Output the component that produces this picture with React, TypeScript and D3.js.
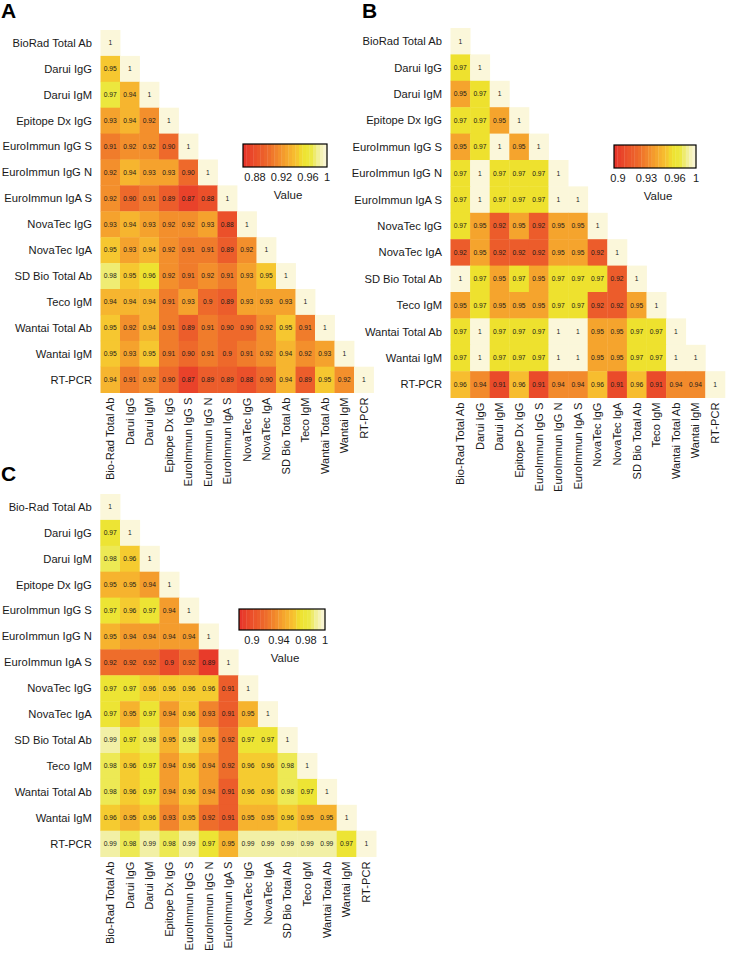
import React from 'react';
import * as d3 from 'd3';

const rowLabelsAB = ['BioRad Total Ab', 'Darui IgG', 'Darui IgM', 'Epitope Dx IgG', 'EuroImmun IgG S', 'EuroImmun IgG N', 'EuroImmun IgA S', 'NovaTec IgG', 'NovaTec IgA', 'SD Bio Total Ab', 'Teco IgM', 'Wantai Total Ab', 'Wantai IgM', 'RT-PCR'];
const rowLabelsC = ['Bio-Rad Total Ab', 'Darui IgG', 'Darui IgM', 'Epitope Dx IgG', 'EuroImmun IgG S', 'EuroImmun IgG N', 'EuroImmun IgA S', 'NovaTec IgG', 'NovaTec IgA', 'SD Bio Total Ab', 'Teco IgM', 'Wantai Total Ab', 'Wantai IgM', 'RT-PCR'];
const colLabels = ['Bio-Rad Total Ab', 'Darui IgG', 'Darui IgM', 'Epitope Dx IgG', 'EuroImmun IgG S', 'EuroImmun IgG N', 'EuroImmun IgA S', 'NovaTec IgG', 'NovaTec IgA', 'SD Bio Total Ab', 'Teco IgM', 'Wantai Total Ab', 'Wantai IgM', 'RT-PCR'];

// lower triangle, row by row, as printed in the cells
const valuesA = [
  ['1'],
  ['0.95', '1'],
  ['0.97', '0.94', '1'],
  ['0.93', '0.94', '0.92', '1'],
  ['0.91', '0.92', '0.92', '0.90', '1'],
  ['0.92', '0.94', '0.93', '0.93', '0.90', '1'],
  ['0.92', '0.90', '0.91', '0.89', '0.87', '0.88', '1'],
  ['0.93', '0.94', '0.93', '0.92', '0.92', '0.93', '0.88', '1'],
  ['0.95', '0.93', '0.94', '0.92', '0.91', '0.91', '0.89', '0.92', '1'],
  ['0.98', '0.95', '0.96', '0.92', '0.91', '0.92', '0.91', '0.93', '0.95', '1'],
  ['0.94', '0.94', '0.94', '0.91', '0.93', '0.9', '0.89', '0.93', '0.93', '0.93', '1'],
  ['0.95', '0.92', '0.94', '0.91', '0.89', '0.91', '0.90', '0.90', '0.92', '0.95', '0.91', '1'],
  ['0.95', '0.93', '0.95', '0.91', '0.90', '0.91', '0.9', '0.91', '0.92', '0.94', '0.92', '0.93', '1'],
  ['0.94', '0.91', '0.92', '0.90', '0.87', '0.89', '0.89', '0.88', '0.90', '0.94', '0.89', '0.95', '0.92', '1'],
];

const valuesB = [
  ['1'],
  ['0.97', '1'],
  ['0.95', '0.97', '1'],
  ['0.97', '0.97', '0.95', '1'],
  ['0.95', '0.97', '1', '0.95', '1'],
  ['0.97', '1', '0.97', '0.97', '0.97', '1'],
  ['0.97', '1', '0.97', '0.97', '0.97', '1', '1'],
  ['0.97', '0.95', '0.92', '0.95', '0.92', '0.95', '0.95', '1'],
  ['0.92', '0.95', '0.92', '0.92', '0.92', '0.95', '0.95', '0.92', '1'],
  ['1', '0.97', '0.95', '0.97', '0.95', '0.97', '0.97', '0.97', '0.92', '1'],
  ['0.95', '0.97', '0.95', '0.95', '0.95', '0.97', '0.97', '0.92', '0.92', '0.95', '1'],
  ['0.97', '1', '0.97', '0.97', '0.97', '1', '1', '0.95', '0.95', '0.97', '0.97', '1'],
  ['0.97', '1', '0.97', '0.97', '0.97', '1', '1', '0.95', '0.95', '0.97', '0.97', '1', '1'],
  ['0.96', '0.94', '0.91', '0.96', '0.91', '0.94', '0.94', '0.96', '0.91', '0.96', '0.91', '0.94', '0.94', '1'],
];

const valuesC = [
  ['1'],
  ['0.97', '1'],
  ['0.98', '0.96', '1'],
  ['0.95', '0.95', '0.94', '1'],
  ['0.97', '0.96', '0.97', '0.94', '1'],
  ['0.95', '0.94', '0.94', '0.94', '0.94', '1'],
  ['0.92', '0.92', '0.92', '0.9', '0.92', '0.89', '1'],
  ['0.97', '0.97', '0.96', '0.96', '0.96', '0.96', '0.91', '1'],
  ['0.97', '0.95', '0.97', '0.94', '0.96', '0.93', '0.91', '0.95', '1'],
  ['0.99', '0.97', '0.98', '0.95', '0.98', '0.95', '0.92', '0.97', '0.97', '1'],
  ['0.98', '0.96', '0.97', '0.94', '0.96', '0.94', '0.92', '0.96', '0.96', '0.98', '1'],
  ['0.98', '0.96', '0.97', '0.94', '0.96', '0.94', '0.91', '0.96', '0.96', '0.98', '0.97', '1'],
  ['0.96', '0.95', '0.96', '0.93', '0.95', '0.92', '0.91', '0.95', '0.95', '0.96', '0.95', '0.95', '1'],
  ['0.99', '0.98', '0.99', '0.98', '0.99', '0.97', '0.95', '0.99', '0.99', '0.99', '0.99', '0.99', '0.97', '1'],
];

const ticksA = [0.88, 0.92, 0.96, 1];
const ticksB = [0.9, 0.93, 0.96, 1];
const ticksC = [0.9, 0.94, 0.98, 1];

const heatStops = ['#e6302a', '#ea4a2a', '#ee6a2b', '#f3902c', '#f6ae2e', '#f7c430', '#eee22e', '#ece842', '#f1ef9c', '#f7f4c8', '#fbf7da'];
const heatAt = [0, 0.12, 0.3, 0.44, 0.55, 0.64, 0.71, 0.81, 0.9, 0.96, 1];

const FONT = 'Arial, "Liberation Sans", Helvetica, sans-serif';

type PanelProps = {
  letter: string;
  letterX: number;
  letterY: number;
  rowLabels: string[];
  values: string[][];
  x0: number;
  y0: number;
  cellW: number;
  cellH: number;
  lo: number;
  ticks: number[];
  tickRange: [number, number];
  legX: number;
  legY: number;
  legW: number;
  legH: number;
};

const Panel = (p: PanelProps) => {
  const n = p.rowLabels.length;
  const xScale = d3.scaleBand<number>().domain(d3.range(n)).range([p.x0, p.x0 + n * p.cellW]);
  const yScale = d3.scaleBand<number>().domain(d3.range(n)).range([p.y0, p.y0 + n * p.cellH]);
  const t = d3.scaleLinear().domain([p.lo, 1]).range([0, 1]).clamp(true);
  const ramp = d3.scaleLinear<string>().domain(heatAt).range(heatStops).interpolate(d3.interpolateRgb);
  const color = (v: number) => ramp(t(v));
  const legScale = d3.scaleLinear().domain([p.lo, 1]).range([p.legX, p.legX + p.legW]);
  // labels: first three evenly spaced, the last one sits at the bar end
  const tickScale = d3.scaleLinear().domain([p.ticks[0], p.ticks[2]]).range(p.tickRange);
  const tickX = (tk: number, i: number) => (i === p.ticks.length - 1 ? p.legX + p.legW : tickScale(tk));
  const steps = 24;
  const stepVals = d3.range(steps).map((i) => p.lo + ((1 - p.lo) * i) / steps);
  const bottom = p.y0 + n * p.cellH;

  return (
    <g>
      <text x={p.letterX} y={p.letterY} fontSize={21} fontWeight="bold" fontFamily={FONT}>{p.letter}</text>
      {p.values.map((row, i) =>
        row.map((s, j) => (
          <g key={`${i}-${j}`}>
            <rect x={xScale(j)} y={yScale(i)} width={xScale.bandwidth() + 0.4} height={yScale.bandwidth() + 0.4} fill={color(+s)} />
            <text x={xScale(j)! + xScale.bandwidth() / 2} y={yScale(i)! + yScale.bandwidth() / 2} dy="0.35em" textAnchor="middle" fontSize={6.7} fontFamily={FONT} fill="#1a1a1a">{s}</text>
          </g>
        ))
      )}
      {p.rowLabels.map((l, i) => (
        <text key={l} x={p.x0 - 8.5} y={yScale(i)! + yScale.bandwidth() / 2} dy="0.35em" textAnchor="end" fontSize={11.2} fontFamily={FONT} fill="#1a1a1a">{l}</text>
      ))}
      {colLabels.map((l, j) => {
        const cx = xScale(j)! + xScale.bandwidth() / 2;
        const cy = bottom + 5;
        return (
          <text key={l} transform={`translate(${cx},${cy}) rotate(-90)`} dy="0.35em" textAnchor="end" fontSize={11.1} fontFamily={FONT} fill="#1a1a1a">{l}</text>
        );
      })}
      {stepVals.map((v, i) => (
        <rect key={i} x={legScale(v)} y={p.legY} width={p.legW / steps + 0.3} height={p.legH} fill={color(v + (1 - p.lo) / steps / 2)} />
      ))}
      <rect x={p.legX} y={p.legY} width={p.legW} height={p.legH} fill="none" stroke="#000" strokeWidth={1.2} />
      {p.ticks.map((tk, i) => (
        <text key={tk} x={tickX(tk, i)} y={p.legY + p.legH + 14} textAnchor="middle" fontSize={11} fontFamily={FONT} fill="#1a1a1a">{String(tk)}</text>
      ))}
      <text x={p.legX + p.legW / 2 + 3} y={p.legY + p.legH + 32} textAnchor="middle" fontSize={11.5} fontFamily={FONT} fill="#1a1a1a">Value</text>
    </g>
  );
};

export default function App() {
  return (
    <svg width={729} height={953} style={{ position: 'absolute', left: 0, top: 0, background: '#fff' }}>
      <rect width={729} height={953} fill="#fff" />
      <Panel letter="A" letterX={1} letterY={18} rowLabels={rowLabelsAB} values={valuesA}
        x0={100.5} y0={30} cellW={19.5} cellH={25.9} lo={0.858} ticks={ticksA} tickRange={[255, 308]}
        legX={243} legY={144} legW={84} legH={23} />
      <Panel letter="B" letterX={362} letterY={18} rowLabels={rowLabelsAB} values={valuesB}
        x0={450.5} y0={28} cellW={19.6} cellH={26.4} lo={0.897} ticks={ticksB} tickRange={[618, 675]}
        legX={614} legY={145} legW={82} legH={23} />
      <Panel letter="C" letterX={1} letterY={481} rowLabels={rowLabelsC} values={valuesC}
        x0={100.3} y0={494} cellW={19.7} cellH={25.9} lo={0.884} ticks={ticksC} tickRange={[252, 306]}
        legX={239} legY={609} legW={86} legH={21} />
    </svg>
  );
}
